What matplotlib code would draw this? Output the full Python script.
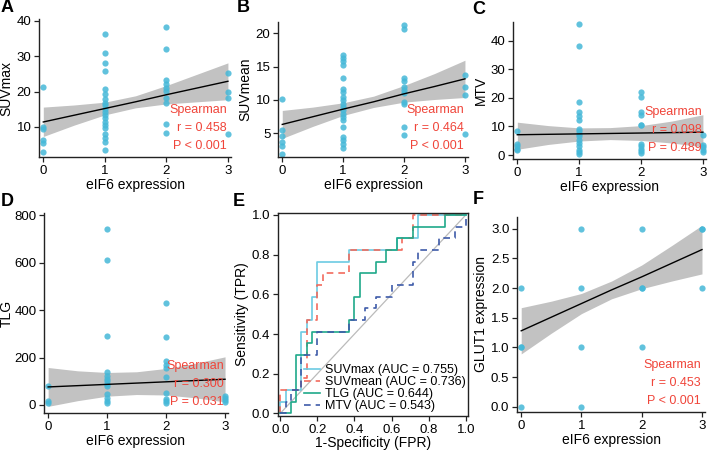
import matplotlib
matplotlib.use("Agg")
import matplotlib.pyplot as plt

plt.rcParams["font.family"] = ["Liberation Sans", "DejaVu Sans"]

W, H = 708, 450
PT = "#45B8D8"
RED = "#F0453A"
BAND = "#C2C2C2"

# ---- data: scatter panels (eIF6 expression score vs value) ----
GRID = [0, 0.5, 1, 1.5, 2, 2.5, 3]

suvmax_pts = {
    0: [21.3, 10.0, 9.5, 6.2, 5.4, 2.9],
    1: [36.4, 31.0, 28.0, 25.7, 20.8, 19.4, 17.8, 16.8, 16.1, 15.2, 14.2,
        13.3, 12.4, 11.4, 10.5, 9.6, 8.0, 7.0, 5.6, 3.4],
    2: [38.1, 32.1, 23.4, 22.0, 21.0, 20.1, 18.2, 16.8, 10.8, 8.2],
    3: [25.2, 19.9, 18.2, 8.0],
}
suvmax_fit = [11.4, 13.3, 15.2, 17.1, 19.1, 21.0, 22.9]
suvmax_hi = [15.6, 16.2, 17.0, 18.8, 21.7, 24.9, 28.1]
suvmax_lo = [7.3, 10.5, 13.4, 15.4, 16.5, 17.1, 17.7]

suvmean_pts = {
    0: [10.1, 5.4, 4.6, 3.7, 3.0, 1.9],
    1: [16.8, 16.3, 15.8, 15.3, 13.3, 11.7, 11.2, 10.4, 10.0, 9.3, 8.9,
        8.4, 7.9, 7.4, 6.9, 5.9, 4.4, 4.0, 3.3, 2.8],
    2: [21.3, 20.7, 13.3, 12.9, 12.0, 11.5, 11.0, 9.7, 9.3, 5.9, 4.7],
    3: [13.7, 12.0, 10.7, 4.9],
}
suvmean_fit = [6.3, 7.45, 8.6, 9.7, 10.9, 12.0, 13.15]
suvmean_hi = [8.4, 8.9, 9.55, 10.55, 12.15, 13.95, 15.95]
suvmean_lo = [4.2, 6.0, 7.65, 8.85, 9.65, 10.05, 10.35]

mtv_pts = {
    0: [8.3, 4.0, 3.0, 2.1, 1.6],
    1: [45.8, 38.1, 18.5, 15.0, 13.7, 12.1, 9.1, 8.3, 7.4, 6.5, 5.3, 4.2,
        3.0, 1.9, 0.9, 0.4],
    2: [21.9, 20.2, 15.2, 14.1, 10.6, 10.6, 4.0, 3.0, 2.1, 1.3, 0.7],
    3: [6.9, 3.6, 2.8, 1.6, 0.9],
}
mtv_fit = [7.1, 7.25, 7.4, 7.55, 7.7, 7.85, 8.0]
mtv_hi = [11.5, 10.3, 9.5, 9.6, 10.3, 11.9, 14.1]
mtv_lo = [2.0, 3.7, 4.9, 5.4, 5.1, 4.2, 2.9]

tlg_pts = {
    0: [80, 17, 8],
    1: [744, 611, 289, 137, 122, 111, 100, 89, 78, 45, 31, 17, 8],
    2: [429, 285, 185, 170, 155, 120, 50, 27, 16, 8],
    3: [36, 28, 21, 12],
}
tlg_fit = [76, 81.4, 86.8, 92.2, 97.6, 103, 108.4]
tlg_hi = [158, 144, 137, 140, 154, 176, 203]
tlg_lo = [-6, 18, 37, 44, 42, 30, 13]

glut1_pts = {
    0: [2.0, 1.0, 1.0, 0.0],
    1: [3.0, 2.0, 1.0, 0.0],
    2: [3.0, 2.0, 2.0, 1.0],
    3: [3.0, 3.0, 2.0],
}
glut1_fit = [1.28, 1.51, 1.74, 1.97, 2.19, 2.42, 2.65]
glut1_hi = [1.67, 1.78, 1.91, 2.12, 2.39, 2.72, 3.06]
glut1_lo = [0.89, 1.24, 1.57, 1.82, 1.99, 2.12, 2.24]

# ---- data: ROC curves ----
roc_names = ["SUVmax", "SUVmean", "TLG", "MTV"]
roc_auc = [0.755, 0.736, 0.644, 0.543]
roc_fpr = [
    [0, 0, 0.029, 0.029, 0.114, 0.114, 0.143, 0.143, 0.171, 0.171, 0.2, 0.2,
     0.371, 0.371, 0.629, 0.629, 0.743, 0.743, 1.0],
    [0, 0, 0.114, 0.114, 0.143, 0.143, 0.2, 0.2, 0.229, 0.229, 0.371, 0.371,
     0.657, 0.657, 0.714, 0.714, 1.0],
    [0, 0.057, 0.057, 0.086, 0.086, 0.143, 0.143, 0.171, 0.171, 0.371, 0.371,
     0.4, 0.4, 0.429, 0.429, 0.514, 0.514, 0.571, 0.571, 0.629, 0.629, 0.714,
     0.714, 0.886, 0.886, 1.0],
    [0, 0.029, 0.029, 0.057, 0.057, 0.114, 0.114, 0.2, 0.2, 0.371, 0.371,
     0.457, 0.457, 0.514, 0.514, 0.6, 0.6, 0.714, 0.714, 0.743, 0.743, 0.857,
     0.857, 0.943, 0.943, 1.0, 1.0],
]
roc_tpr = [
    [0, 0.059, 0.059, 0.118, 0.118, 0.412, 0.412, 0.471, 0.471, 0.588, 0.588,
     0.765, 0.765, 0.824, 0.824, 0.882, 0.882, 1.0, 1.0],
    [0, 0.118, 0.118, 0.176, 0.176, 0.471, 0.471, 0.647, 0.647, 0.706, 0.706,
     0.824, 0.824, 0.882, 0.882, 1.0, 1.0],
    [0, 0, 0.059, 0.059, 0.294, 0.294, 0.353, 0.353, 0.412, 0.412, 0.471,
     0.471, 0.588, 0.588, 0.706, 0.706, 0.765, 0.765, 0.824, 0.824, 0.882,
     0.882, 0.941, 0.941, 1.0, 1.0],
    [0, 0, 0.059, 0.059, 0.118, 0.118, 0.294, 0.294, 0.412, 0.412, 0.471,
     0.471, 0.529, 0.529, 0.588, 0.588, 0.647, 0.647, 0.765, 0.765, 0.824,
     0.824, 0.882, 0.882, 0.941, 0.941, 1.0],
]
roc_colors = ["#6CCBE3", "#F26B5E", "#1FA98A", "#3E5BA9"]
roc_styles = ["-", (0, (4, 3)), "-", (0, (4, 3))]

TICK_FS = 9.5


def rect(l, t, r, b):
    return [l / W, 1 - b / H, (r - l) / W, (b - t) / H]


def style(ax):
    for s in ["top", "right"]:
        ax.spines[s].set_visible(False)
    for s in ["left", "bottom"]:
        ax.spines[s].set_linewidth(1.0)
        ax.spines[s].set_color("#222222")
    ax.tick_params(labelsize=TICK_FS, length=3.5, width=0.9, pad=2,
                   color="#222222")


def scatter_panel(rc, pts, fit, lo, hi, ylabel, ylim, yticks, r, p,
                  yfmt=None, ypad=2):
    ax = fig.add_axes(rc)
    ax.fill_between(GRID, lo, hi, color=BAND, lw=0, zorder=1)
    for x, ys in pts.items():
        ax.scatter([x] * len(ys), ys, s=20, color=PT, alpha=0.85, lw=0,
                   zorder=2, clip_on=False)
    ax.plot(GRID, fit, color="black", lw=1.0, zorder=3)
    ax.set_xlim(-0.07, 3.05)
    ax.set_ylim(*ylim)
    ax.set_xticks([0, 1, 2, 3])
    ax.set_yticks(yticks)
    if yfmt:
        ax.set_yticklabels([yfmt % v for v in yticks])
    ax.set_xlabel("eIF6 expression", fontsize=10, labelpad=1)
    ax.set_ylabel(ylabel, fontsize=10, labelpad=ypad)
    style(ax)
    for txt, off in [("Spearman", 34), (r, 21), (p, 8)]:
        ax.annotate(txt, xy=(2.98, 0), xycoords=("data", "axes fraction"),
                    xytext=(0, off), textcoords="offset points", ha="right",
                    va="center", color=RED, fontsize=9, zorder=4)
    return ax


fig = plt.figure(figsize=(W / 100, H / 100), dpi=100)

scatter_panel(rect(39, 19, 231, 157), suvmax_pts, suvmax_fit, suvmax_lo,
              suvmax_hi, "SUVmax", (1.5, 40.5), [10, 20, 30, 40],
              "r = 0.458", "P < 0.001")
scatter_panel(rect(278, 22, 468, 157), suvmean_pts, suvmean_fit, suvmean_lo,
              suvmean_hi, "SUVmean", (1.4, 21.7), [5, 10, 15, 20],
              "r = 0.464", "P < 0.001")
scatter_panel(rect(513, 22, 706, 159), mtv_pts, mtv_fit, mtv_lo, mtv_hi,
              "MTV", (-1.4, 46.6), [0, 10, 20, 30, 40],
              "r = 0.098", "P = 0.489")
scatter_panel(rect(44, 213, 228, 413), tlg_pts, tlg_fit, tlg_lo, tlg_hi,
              "TLG", (-34, 810), [0, 200, 400, 600, 800],
              "r = 0.300", "P = 0.031", ypad=0)
scatter_panel(rect(517, 217, 705, 412), glut1_pts, glut1_fit, glut1_lo,
              glut1_hi, "GLUT1 expression", (-0.09, 3.2),
              [0, 0.5, 1, 1.5, 2, 2.5, 3], "r = 0.453", "P < 0.001",
              yfmt="%.1f")

# ROC panel
ax = fig.add_axes(rect(278, 213, 468, 416))
ax.plot([0, 1], [0, 1], color="#BBBBBB", lw=0.9, zorder=1)
for name, auc, fx, ty, c, ls in zip(roc_names, roc_auc, roc_fpr, roc_tpr,
                                     roc_colors, roc_styles):
    ax.plot(fx, ty, color=c, ls=ls, lw=1.2,
            label=f"{name} (AUC = {auc:.3f})")
ax.set_xlim(-0.012, 1.012)
ax.set_ylim(-0.013, 1.01)
ax.set_xticks([0, 0.2, 0.4, 0.6, 0.8, 1.0])
ax.set_yticks([0, 0.2, 0.4, 0.6, 0.8, 1.0])
ax.set_xticklabels(["0.0", "0.2", "0.4", "0.6", "0.8", "1.0"])
ax.set_yticklabels(["0.0", "0.2", "0.4", "0.6", "0.8", "1.0"])
ax.set_xlabel("1-Specificity (FPR)", fontsize=10, labelpad=0)
ax.set_ylabel("Sensitivity (TPR)", fontsize=10, labelpad=2)
for s in ax.spines.values():
    s.set_linewidth(1.0)
    s.set_color("#222222")
ax.tick_params(labelsize=TICK_FS, length=3.5, width=0.9, pad=2,
               color="#222222")
ax.legend(loc="lower right", bbox_to_anchor=(1.0, 0.01), frameon=False,
          fontsize=9, handlelength=1.3, handletextpad=0.4,
          labelspacing=0.0, borderpad=0.1, borderaxespad=0.05)

# panel letters
for letter, x, y in [("A", 1, 7), ("B", 237, 7), ("C", 472, 9),
                     ("D", 1, 201), ("E", 233, 201), ("F", 473, 200)]:
    fig.text(x / W, 1 - y / H, letter, fontsize=13, fontweight="bold",
             ha="left", va="center")

fig.savefig("out.png", dpi=100)
